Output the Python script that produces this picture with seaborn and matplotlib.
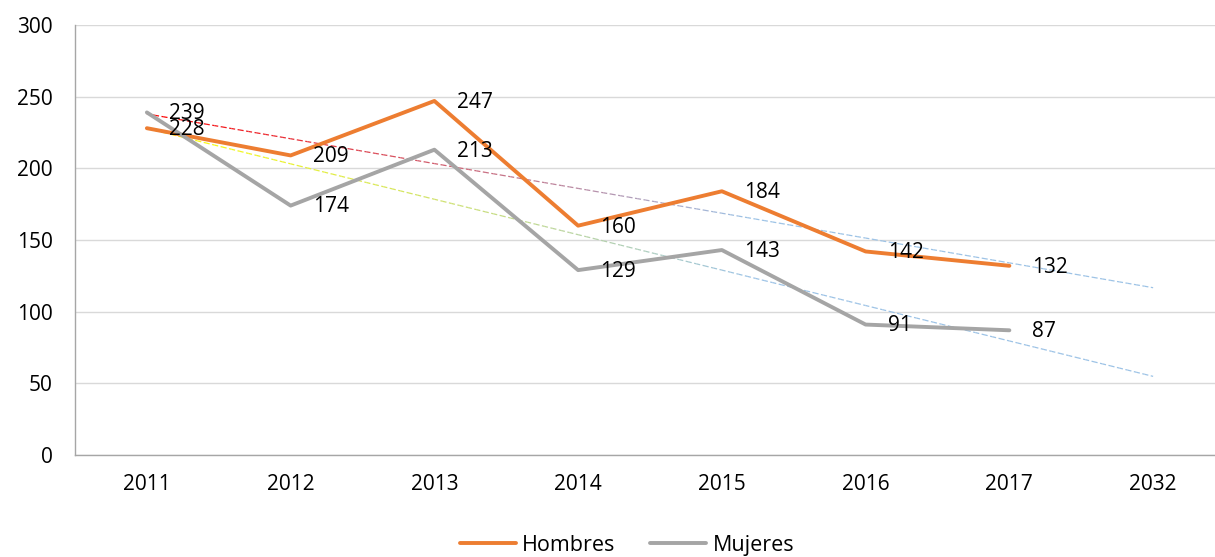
import numpy as np
import pandas as pd
import matplotlib.pyplot as plt
import seaborn as sns
from matplotlib.collections import LineCollection
from matplotlib.colors import to_rgb

# ------------------------------------
# Data
# ------------------------------------

years = ["2011", "2012", "2013", "2014", "2015", "2016", "2017", "2032"]
hombres = [228, 209, 247, 160, 184, 142, 132]
mujeres = [239, 174, 213, 129, 143, 91, 87]

series_names = ["Hombres", "Mujeres"]
colors = {"Hombres": "#ED7D31", "Mujeres": "#A5A5A5"}
trend_start = {"Hombres": "#FF0000", "Mujeres": "#FFFF00"}
trend_end = "#9DC3E6"

df = pd.DataFrame({
    "pos": list(range(len(hombres))) * 2,
    "valor": hombres + mujeres,
    "serie": ["Hombres"] * len(hombres) + ["Mujeres"] * len(mujeres),
})

# ------------------------------------
# Plot
# ------------------------------------

sns.set_style("white")
plt.rcParams["font.family"] = ["Open Sans", "DejaVu Sans"]

fig = plt.figure(figsize=(12.15, 5.57), dpi=100)
ax = fig.add_axes([75 / 1215, 1 - 455 / 557, 1150 / 1215, 430 / 557])

# trend lines (linear fit, extended to the last category)
for name, values in zip(series_names, [hombres, mujeres]):
    x = np.arange(len(values))
    slope, intercept = np.polyfit(x, values, 1)
    xs = np.linspace(0, len(years) - 1, 120)
    ys = slope * xs + intercept
    pts = np.column_stack([xs, ys]).reshape(-1, 1, 2)
    segs = np.concatenate([pts[:-1], pts[1:]], axis=1)
    c0 = np.array(to_rgb(trend_start[name]))
    c1 = np.array(to_rgb(trend_end))
    t = np.clip(np.linspace(0, 1, len(segs)) / 0.6, 0, 1)[:, None]
    cols = c0 * (1 - t) + c1 * t
    lc = LineCollection(segs, colors=cols, linewidths=0.9,
                        linestyles=(0, (3, 2)), zorder=2)
    ax.add_collection(lc)

sns.lineplot(
    data=df,
    x="pos",
    y="valor",
    hue="serie",
    palette=colors,
    linewidth=2.8,
    ax=ax,
    zorder=3,
)

# data labels
for name, values in zip(series_names, [hombres, mujeres]):
    for i, v in enumerate(values):
        ax.annotate(
            str(v),
            (i, v),
            xytext=(16, -1),
            textcoords="offset points",
            va="center",
            ha="left",
            fontsize=15,
            color="black",
            zorder=4,
        )

ax.set_xlim(-0.5, len(years) - 0.5)
ax.set_ylim(0, 300)
ax.set_yticks(range(0, 301, 50))
ax.set_xticks(range(len(years)))
ax.set_xticklabels(years)
ax.set_xticks(np.arange(-0.5, len(years), 1), minor=True)
ax.tick_params(axis="x", which="major", length=0, pad=14, labelsize=15,
               labelcolor="black")
ax.tick_params(axis="x", which="minor", length=6, color="#A6A6A6", width=1)
ax.tick_params(axis="y", length=6, color="#A6A6A6", width=1, pad=10,
               labelsize=15, labelcolor="black")

ax.grid(axis="y", color="#D9D9D9", linewidth=1)
ax.set_axisbelow(True)

for side in ["top", "right"]:
    ax.spines[side].set_visible(False)
for side in ["left", "bottom"]:
    ax.spines[side].set_color("#A6A6A6")
    ax.spines[side].set_linewidth(1)

ax.set_xlabel("")
ax.set_ylabel("")

leg = ax.legend(
    loc="lower center",
    bbox_to_anchor=(0.48, -0.27),
    ncol=2,
    frameon=False,
    fontsize=15.5,
    handlelength=2.6,
    columnspacing=1.6,
    handletextpad=0.3,
    borderpad=0.2,
)
for text in leg.get_texts():
    text.set_color("black")

plt.savefig("out.png", dpi=100)
plt.close()
